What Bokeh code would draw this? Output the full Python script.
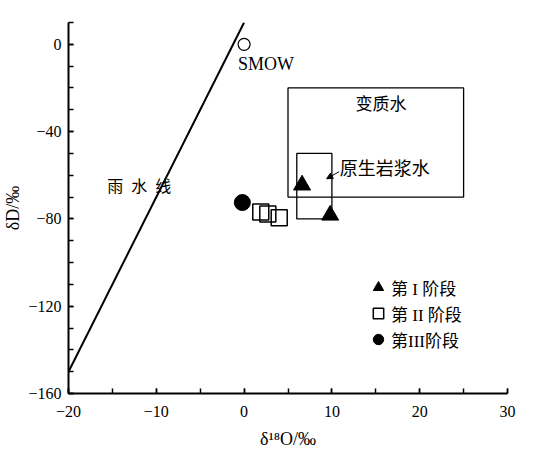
from bokeh.plotting import figure
from bokeh.models import (Label, Arrow, NormalHead, SingleIntervalTicker,
                          CustomJSTickFormatter, ColumnDataSource)
from bokeh.embed import file_html
from bokeh.resources import INLINE

# ---------------- data ----------------
stage1_x = [6.6, 9.8]
stage1_y = [-64.5, -78.3]
stage2_x = [1.9, 2.7, 4.0]
stage2_y = [-76.8, -77.7, -79.5]
stage3_x = [-0.2]
stage3_y = [-72.5]
smow_x = [0.0]
smow_y = [0.0]
mwl_x = [-20, 0]
mwl_y = [-150, 10]
# boxes: left, right, bottom, top
meta_box = dict(left=[5], right=[25], bottom=[-70], top=[-20])
magma_box = dict(left=[6], right=[10], bottom=[-80], top=[-50])

legend_labels = ["第 I 阶段", "第 II 阶段", "第III阶段"]

SERIF = "Liberation Serif"
CJK = "Noto Sans CJK SC"
MIXED = "Liberation Serif, Noto Sans CJK SC"

p = figure(width=533, height=457, output_backend="svg", toolbar_location=None,
           x_range=(-20, 30), y_range=(-160, 10),
           min_border_left=67, min_border_right=26, min_border_top=22,
           min_border_bottom=64)
p.outline_line_color = None
p.xgrid.visible = False
p.ygrid.visible = False
p.background_fill_color = "white"

minus_fmt = CustomJSTickFormatter(code="return tick < 0 ? '\u2212' + Math.abs(tick) : String(tick);")

for ax in (p.xaxis[0], p.yaxis[0]):
    ax.axis_line_width = 2
    ax.axis_line_color = "black"
    ax.major_tick_in = 5
    ax.major_tick_out = 0
    ax.minor_tick_in = 5
    ax.minor_tick_out = 0
    ax.major_tick_line_width = 1.5
    ax.minor_tick_line_width = 1.5
    ax.major_tick_line_color = "black"
    ax.minor_tick_line_color = "black"
    ax.major_label_text_font = SERIF
    ax.major_label_text_font_size = "16px"
    ax.major_label_text_color = "black"
    ax.axis_label_text_font = SERIF
    ax.axis_label_text_font_size = "18px"
    ax.axis_label_text_font_style = "normal"
    ax.axis_label_text_color = "black"
    ax.formatter = minus_fmt

p.xaxis[0].ticker = SingleIntervalTicker(interval=10, num_minor_ticks=2)
p.yaxis[0].ticker = SingleIntervalTicker(interval=40, num_minor_ticks=4)
p.xaxis[0].major_label_standoff = 12
p.yaxis[0].major_label_standoff = 7
p.xaxis[0].axis_label = "δ¹⁸O/‰"
p.xaxis[0].axis_label_standoff = 9
p.yaxis[0].axis_label = "δD/‰"
p.yaxis[0].axis_label_standoff = 2

# meteoric water line
p.line(mwl_x, mwl_y, line_color="black", line_width=2)

# boxes
p.quad(source=ColumnDataSource(meta_box), left="left", right="right", bottom="bottom", top="top",
       fill_color=None, line_color="black", line_width=1.3)
p.quad(source=ColumnDataSource(magma_box), left="left", right="right", bottom="bottom", top="top",
       fill_color=None, line_color="black", line_width=1.3)

# SMOW
p.scatter(smow_x, smow_y, marker="circle", size=12, fill_color="white",
          line_color="black", line_width=1.2)

# stages
p.scatter(stage1_x, stage1_y, marker="triangle", size=17, fill_color="black",
          line_color="black", legend_label=legend_labels[0])
p.scatter(stage2_x, stage2_y, marker="square", size=16, fill_color=None,
          line_color="black", line_width=1.5, legend_label=legend_labels[1])
p.scatter(stage3_x, stage3_y, marker="circle", size=16, fill_color="black",
          line_color="black", legend_label=legend_labels[2])

# annotations
p.add_layout(Label(x=-15.6, y=-64.5, text="雨\u2002水\u2002线", text_font=CJK,
                   text_font_size="16px", text_baseline="middle", text_color="black"))
p.add_layout(Label(x=-0.7, y=-9.2, text="SMOW", text_font=SERIF,
                   text_font_size="18px", text_baseline="middle", text_color="black"))
p.add_layout(Label(x=15.6, y=-26.7, text="变质水", text_font=CJK,
                   text_font_size="17px", text_baseline="middle", text_align="center",
                   text_color="black"))
p.add_layout(Label(x=10.9, y=-56, text="原生岩浆水", text_font=CJK,
                   text_font_size="18px", text_baseline="middle", text_color="black"))
p.add_layout(Arrow(end=NormalHead(size=6, fill_color="black", line_color="black"),
                   x_start=10.8, y_start=-58.4, x_end=9.4, y_end=-61.6,
                   line_width=1, line_color="black"))

# legend
lg = p.legend[0]
lg.location = (297, 41)
lg.glyph_width = 26
lg.glyph_height = 26
lg.label_height = 24
lg.spacing = -2
lg.padding = 0
lg.margin = 0
lg.label_standoff = 0
lg.border_line_alpha = 0
lg.background_fill_alpha = 0
lg.label_text_font = MIXED
lg.label_text_font_size = "17px"
lg.label_text_color = "black"

open("out.html", "w").write(file_html(p, INLINE))
